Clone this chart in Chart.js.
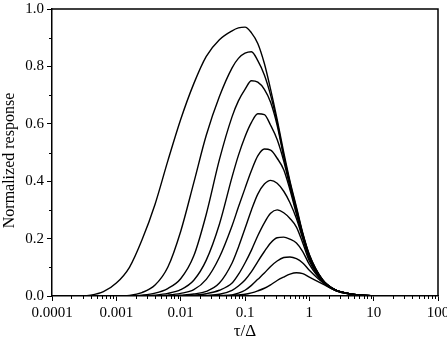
<!DOCTYPE html>
<html>
<head>
<meta charset="utf-8">
<script src="https://cdn.jsdelivr.net/npm/chart.js@4.4.1/dist/chart.umd.min.js"></script>
<style>
  html, body { margin: 0; padding: 0; background: #fff; overflow: hidden; }
  #wrap { width: 447px; height: 342px; }
</style>
</head>
<body>
<div id="wrap"><canvas id="chart"></canvas></div>
<script>
// tau/Delta sample points (log spaced, finer around the peaks)
const tau = [0.0001, 0.00025, 0.0004, 0.00063, 0.001, 0.0016, 0.0025, 0.004, 0.0063, 0.01,
             0.016, 0.025, 0.04, 0.063, 0.079, 0.1, 0.126, 0.158, 0.2, 0.25,
             0.316, 0.4, 0.5, 0.63, 0.79, 1, 1.6, 2.5, 4, 6.3,
             10, 16, 100];

// normalized response, one list per curve
const resp1 = [0, 0, 0.003, 0.015, 0.045, 0.10, 0.195, 0.32, 0.47, 0.615,
               0.74, 0.835, 0.893, 0.924, 0.934, 0.937, 0.917, 0.88, 0.81, 0.72,
               0.615, 0.50, 0.40, 0.31, 0.22, 0.145, 0.058, 0.022, 0.009, 0.003,
               0.001, 0, 0];
const resp2 = [0, 0, 0, 0, 0, 0.002, 0.012, 0.038, 0.10, 0.225,
               0.395, 0.56, 0.695, 0.795, 0.828, 0.846, 0.851, 0.82, 0.77, 0.70,
               0.605, 0.49, 0.395, 0.305, 0.217, 0.143, 0.057, 0.022, 0.009, 0.003,
               0.001, 0, 0];
const resp3 = [0, 0, 0, 0, 0, 0, 0.003, 0.01, 0.026, 0.06,
               0.14, 0.285, 0.475, 0.625, 0.68, 0.72, 0.75, 0.745, 0.72, 0.675,
               0.595, 0.485, 0.39, 0.30, 0.215, 0.14, 0.056, 0.022, 0.009, 0.003,
               0.001, 0, 0];
const resp4 = [0, 0, 0, 0, 0, 0, 0, 0.003, 0.009, 0.022,
               0.055, 0.125, 0.25, 0.415, 0.49, 0.555, 0.605, 0.635, 0.632, 0.595,
               0.545, 0.47, 0.38, 0.295, 0.21, 0.138, 0.056, 0.022, 0.009, 0.003,
               0.001, 0, 0];
const resp5 = [0, 0, 0, 0, 0, 0, 0, 0, 0.003, 0.009,
               0.022, 0.058, 0.135, 0.245, 0.31, 0.375, 0.437, 0.488, 0.512, 0.508,
               0.48, 0.44, 0.37, 0.285, 0.205, 0.135, 0.055, 0.022, 0.009, 0.003,
               0.001, 0, 0];
const resp6 = [0, 0, 0, 0, 0, 0, 0, 0, 0, 0.003,
               0.007, 0.016, 0.045, 0.115, 0.17, 0.235, 0.30, 0.355, 0.39, 0.403,
               0.393, 0.365, 0.325, 0.27, 0.20, 0.13, 0.054, 0.021, 0.009, 0.003,
               0.001, 0, 0];
const resp7 = [0, 0, 0, 0, 0, 0, 0, 0, 0, 0,
               0.003, 0.008, 0.02, 0.045, 0.075, 0.115, 0.16, 0.21, 0.255, 0.288,
               0.30, 0.29, 0.27, 0.24, 0.185, 0.122, 0.052, 0.021, 0.009, 0.003,
               0.001, 0, 0];
const resp8 = [0, 0, 0, 0, 0, 0, 0, 0, 0, 0,
               0, 0.002, 0.006, 0.02, 0.035, 0.056, 0.085, 0.12, 0.155, 0.185,
               0.203, 0.205, 0.198, 0.185, 0.155, 0.11, 0.05, 0.02, 0.008, 0.003,
               0.001, 0, 0];
const resp9 = [0, 0, 0, 0, 0, 0, 0, 0, 0, 0,
               0, 0, 0.002, 0.004, 0.01, 0.02, 0.037, 0.058, 0.08, 0.103,
               0.122, 0.134, 0.136, 0.13, 0.115, 0.09, 0.048, 0.02, 0.008, 0.003,
               0.001, 0, 0];
const resp10 = [0, 0, 0, 0, 0, 0, 0, 0, 0, 0,
                0, 0, 0, 0.002, 0.004, 0.006, 0.011, 0.018, 0.027, 0.039,
                0.054, 0.066, 0.076, 0.081, 0.078, 0.066, 0.042, 0.02, 0.008, 0.003,
                0.001, 0, 0];

// axis ticks
const xTicks = [0.0001, 0.001, 0.01, 0.1, 1, 10, 100];
const xTickLabels = ['0.0001', '0.001', '0.01', '0.1', '1', '10', '100'];
const yTicks = [0, 0.2, 0.4, 0.6, 0.8, 1.0];
const yTickLabels = ['0.0', '0.2', '0.4', '0.6', '0.8', '1.0'];

const FONT = "'Liberation Serif', 'Times New Roman', serif";

var allResp = [resp1, resp2, resp3, resp4, resp5, resp6, resp7, resp8, resp9, resp10];
var datasets = allResp.map(function (vals) {
    return {
        data: tau.map(function (t, i) { return { x: t, y: vals[i] }; }),
        borderColor: '#000',
        borderWidth: 1.4,
        pointRadius: 0,
        fill: false,
        cubicInterpolationMode: 'monotone'
    };
});

// box on top/right and the short minor ticks
const frameAndMinor = {
    id: 'frameAndMinor',
    afterDraw(chart) {
        var ctx = chart.ctx, a = chart.chartArea;
        var xs = chart.scales.x, ys = chart.scales.y;
        ctx.save();
        ctx.strokeStyle = '#000';
        ctx.lineWidth = 1.5;
        ctx.beginPath();
        ctx.moveTo(a.left, a.top);
        ctx.lineTo(a.right, a.top);
        ctx.lineTo(a.right, a.bottom);
        ctx.stroke();

        ctx.lineWidth = 1;
        ctx.beginPath();
        for (var d = 0; d < xTicks.length - 1; d++) {
            for (var k = 2; k < 10; k++) {
                var px = Math.round(xs.getPixelForValue(xTicks[d] * k)) + 0.5;
                ctx.moveTo(px, a.bottom);
                ctx.lineTo(px, a.bottom + 3);
            }
        }
        for (var i = 0; i < yTicks.length - 1; i++) {
            var py = Math.round(ys.getPixelForValue((yTicks[i] + yTicks[i + 1]) / 2)) + 0.5;
            ctx.moveTo(a.left - 3, py);
            ctx.lineTo(a.left, py);
        }
        ctx.stroke();
        ctx.restore();
    }
};

new Chart(document.getElementById('chart'), {
    type: 'line',
    data: { datasets: datasets },
    plugins: [frameAndMinor],
    options: {
        responsive: true,
        maintainAspectRatio: false,
        animation: false,
        layout: { padding: { top: 9, right: 9, left: 0, bottom: 0 } },
        plugins: { legend: { display: false }, tooltip: { enabled: false } },
        scales: {
            x: {
                type: 'logarithmic',
                position: 'bottom',
                min: 0.0001,
                max: 100,
                afterBuildTicks: function (scale) {
                    scale.ticks = xTicks.map(function (v) { return { value: v }; });
                },
                afterFit: function (scale) {
                    scale.height = 46;
                    scale.paddingLeft = 0;
                    scale.paddingRight = 0;
                },
                ticks: {
                    autoSkip: false,
                    maxRotation: 0,
                    padding: 3,
                    color: '#000',
                    font: { family: FONT, size: 15 },
                    callback: function (v, i) { return xTickLabels[i]; }
                },
                grid: {
                    drawOnChartArea: false,
                    drawTicks: true,
                    tickLength: 5,
                    tickColor: '#000',
                    tickWidth: 1
                },
                border: { display: true, color: '#000', width: 1.5 },
                title: {
                    display: true,
                    text: 'τ/Δ',
                    color: '#000',
                    font: { family: FONT, size: 17 },
                    padding: { top: 0, bottom: 0 }
                }
            },
            y: {
                type: 'linear',
                min: 0,
                max: 1,
                afterBuildTicks: function (scale) {
                    scale.ticks = yTicks.map(function (v) { return { value: v }; });
                },
                afterFit: function (scale) {
                    scale.width = 52;
                    scale.paddingTop = 0;
                    scale.paddingBottom = 0;
                },
                ticks: {
                    padding: 3,
                    color: '#000',
                    font: { family: FONT, size: 15 },
                    callback: function (v, i) { return yTickLabels[i]; }
                },
                grid: {
                    drawOnChartArea: false,
                    drawTicks: true,
                    tickLength: 5,
                    tickColor: '#000',
                    tickWidth: 1
                },
                border: { display: true, color: '#000', width: 1.5 },
                title: {
                    display: true,
                    // trailing spaces nudge the label down a little, like the original
                    text: 'Normalized response\u00a0\u00a0\u00a0\u00a0',
                    color: '#000',
                    font: { family: FONT, size: 16 },
                    padding: { top: 0, bottom: 0 }
                }
            }
        }
    }
});
</script>
</body>
</html>
